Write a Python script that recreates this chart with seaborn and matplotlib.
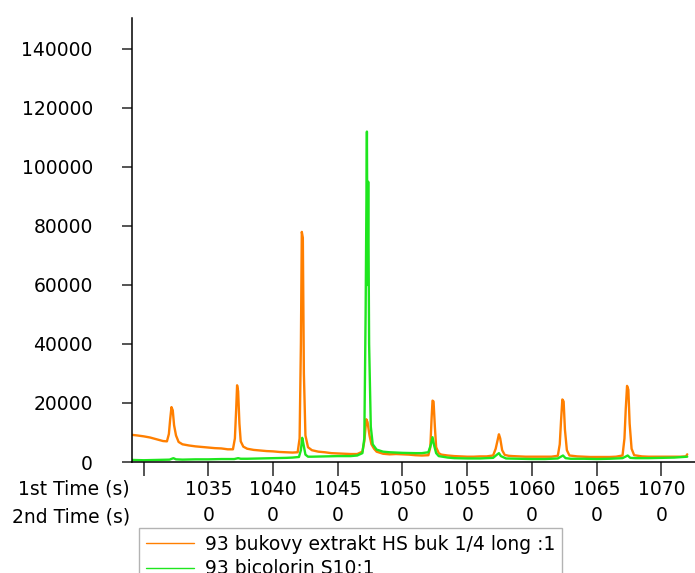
import pandas as pd
import matplotlib
matplotlib.use('Agg')
import matplotlib.pyplot as plt
from matplotlib.lines import Line2D
import seaborn as sns

# Series (1st time in s, intensity)
orange_label = '93 bukovy extrakt HS buk 1/4 long :1'
green_label = '93 bicolorin S10:1'

orange_time = [1029.1, 1029.5, 1030.0, 1030.5, 1031.0, 1031.5, 1031.8, 1031.95, 1032.05, 1032.15,
               1032.25, 1032.35, 1032.5, 1032.7, 1033.0, 1033.5, 1034.0, 1034.5, 1035.0, 1035.5,
               1036.0, 1036.5, 1036.9, 1037.05, 1037.15, 1037.22, 1037.3, 1037.4, 1037.5, 1037.7,
               1038.0, 1038.5, 1039.0, 1039.5, 1040.0, 1040.5, 1041.0, 1041.5, 1041.9, 1042.05,
               1042.15, 1042.22, 1042.3, 1042.38, 1042.5, 1042.7, 1043.0, 1043.5, 1044.0, 1044.5,
               1045.0, 1045.5, 1046.0, 1046.5, 1046.9, 1047.05, 1047.2, 1047.3, 1047.45, 1047.6,
               1047.8, 1048.0, 1048.5, 1049.0, 1049.5, 1050.0, 1050.5, 1051.0, 1051.5, 1052.0,
               1052.15, 1052.25, 1052.32, 1052.4, 1052.5, 1052.6, 1052.8, 1053.0, 1053.5, 1054.0,
               1054.5, 1055.0, 1055.5, 1056.0, 1056.5, 1057.0, 1057.2, 1057.35, 1057.45, 1057.55,
               1057.7, 1057.9, 1058.2, 1058.5, 1059.0, 1059.5, 1060.0, 1060.5, 1061.0, 1061.5,
               1062.0, 1062.15, 1062.25, 1062.35, 1062.45, 1062.55, 1062.7, 1062.9, 1063.5, 1064.0,
               1064.5, 1065.0, 1065.5, 1066.0, 1066.5, 1067.0, 1067.15, 1067.25, 1067.35, 1067.45,
               1067.55, 1067.7, 1067.9, 1068.5, 1069.0, 1069.5, 1070.0, 1070.5, 1071.0, 1071.5,
               1071.9, 1072.0]
orange_value = [9200, 9000, 8700, 8300, 7700, 7100, 7000, 9500, 14500, 18600,
                17500, 12500, 9000, 6800, 6000, 5600, 5300, 5100, 4900, 4700,
                4600, 4300, 4300, 8000, 18000, 26000, 24000, 13000, 7000, 5200,
                4500, 4100, 3900, 3700, 3600, 3400, 3300, 3200, 3300, 8000,
                40000, 78000, 76000, 30000, 9000, 5000, 4000, 3500, 3300, 3000,
                2900, 2800, 2700, 2700, 3500, 7000, 14500, 13500, 9000, 6000,
                4500, 3500, 2800, 2600, 2700, 2600, 2500, 2300, 2200, 2300,
                5000, 15000, 20800, 20500, 12000, 5000, 3000, 2500, 2200, 2000,
                1900, 1800, 1800, 1900, 1900, 2200, 4500, 7500, 9400, 8000,
                4000, 2400, 2100, 2000, 1900, 1800, 1800, 1800, 1800, 1800,
                2100, 6000, 14000, 21200, 20500, 11000, 4000, 2200, 1900, 1800,
                1700, 1700, 1700, 1700, 1800, 2200, 8000, 18000, 25800, 24500,
                13000, 4500, 2300, 1900, 1800, 1800, 1800, 1800, 1800, 1800,
                1900, 2600]

green_time = [1029.1, 1030.0, 1031.0, 1032.0, 1032.3, 1032.5, 1033.0, 1034.0, 1035.0, 1036.0,
              1037.0, 1037.3, 1037.5, 1038.0, 1039.0, 1040.0, 1041.0, 1041.5, 1042.0, 1042.15,
              1042.25, 1042.35, 1042.5, 1042.7, 1043.0, 1044.0, 1045.0, 1046.0, 1046.5, 1046.9,
              1047.05, 1047.15, 1047.25, 1047.3, 1047.35, 1047.42, 1047.55, 1047.7, 1048.0, 1048.5,
              1049.0, 1050.0, 1051.0, 1051.5, 1052.0, 1052.2, 1052.32, 1052.45, 1052.6, 1052.8,
              1053.5, 1054.0, 1055.0, 1056.0, 1057.0, 1057.3, 1057.45, 1057.6, 1058.0, 1059.0,
              1060.0, 1061.0, 1062.0, 1062.4, 1062.6, 1063.0, 1064.0, 1065.0, 1066.0, 1067.0,
              1067.4, 1067.6, 1068.0, 1069.0, 1070.0, 1071.0, 1072.0]
green_value = [700, 600, 700, 800, 1300, 900, 800, 900, 900, 1000,
               1000, 1300, 1100, 1100, 1200, 1300, 1400, 1500, 1700, 4000,
               8200, 6000, 2500, 1800, 1800, 1900, 2000, 2000, 2200, 3000,
               8000, 50000, 112000, 60000, 95000, 40000, 12000, 6000, 4200, 3500,
               3300, 3100, 3000, 3000, 3300, 6000, 8400, 5500, 3000, 2000,
               1500, 1300, 1200, 1200, 1400, 2500, 3000, 2000, 1200, 1100,
               1000, 1000, 1200, 2200, 1300, 1100, 1100, 1000, 1100, 1300,
               2200, 1400, 1300, 1300, 1400, 1500, 1800]

x_ticks = [1030, 1035, 1040, 1045, 1050, 1055, 1060, 1065, 1070]
first_time_labels = ['', '1035', '1040', '1045', '1050', '1055', '1060', '1065', '1070']
second_time_labels = ['', '0', '0', '0', '0', '0', '0', '0', '0']
y_ticks = [0, 20000, 40000, 60000, 80000, 100000, 120000, 140000]

orange = '#ff7f00'
green = '#1ee61e'

df = pd.concat([
    pd.DataFrame({'time': orange_time, 'intensity': orange_value, 'sample': orange_label}),
    pd.DataFrame({'time': green_time, 'intensity': green_value, 'sample': green_label}),
])

sns.set_theme(style='white')
plt.rcParams['font.family'] = ['DejaVu Sans']
plt.rcParams['text.color'] = 'black'
fs = 13.5

fig = plt.figure(figsize=(6.95, 5.73), dpi=100)
ax = fig.add_axes([132 / 695, 111 / 573, 1 - 132 / 695, 444 / 573])

sns.lineplot(data=df, x='time', y='intensity', hue='sample',
             palette=[orange, green], estimator=None, legend=False,
             linewidth=1.7, ax=ax)

ax.set_xlim(1029.1, 1072.6)
ax.set_ylim(0, 150500)
ax.set_xlabel('')
ax.set_ylabel('')

ax.set_yticks(y_ticks)
ax.set_yticklabels([str(v) for v in y_ticks], fontsize=fs, color='black')
ax.set_xticks(x_ticks)
ax.set_xticklabels([a + '\n' + b for a, b in zip(first_time_labels, second_time_labels)],
                   fontsize=fs, color='black', linespacing=1.45)

ax.tick_params(axis='y', direction='out', length=7.2, width=1.1, pad=21, left=True)
ax.tick_params(axis='x', direction='out', length=10, width=1.1, pad=3, bottom=True)

for side in ['top', 'right']:
    ax.spines[side].set_visible(False)
for side in ['left', 'bottom']:
    ax.spines[side].set_color('black')
    ax.spines[side].set_linewidth(1.1)

fig.text(130 / 695, 1 - 489 / 573, '1st Time (s)', ha='right', va='center', fontsize=fs, color='black')
fig.text(130 / 695, 1 - 516.7 / 573, '2nd Time (s)', ha='right', va='center', fontsize=fs, color='black')

# Legend sits at the bottom edge and is clipped by it, as in the original export
handles = [Line2D([], [], color=orange, lw=1.0), Line2D([], [], color=green, lw=1.0)]
leg = fig.legend(handles, [orange_label, green_label], loc='upper left',
                 bbox_to_anchor=(139 / 695, 1 - 528 / 573), fontsize=fs,
                 frameon=True, fancybox=False, handlelength=2.6, handletextpad=0.55,
                 labelspacing=0.3, borderpad=0.35, borderaxespad=0, labelcolor='black')
leg.get_frame().set_edgecolor('#a0a0a0')
leg.get_frame().set_linewidth(1.0)

fig.savefig('out.png', dpi=100)
